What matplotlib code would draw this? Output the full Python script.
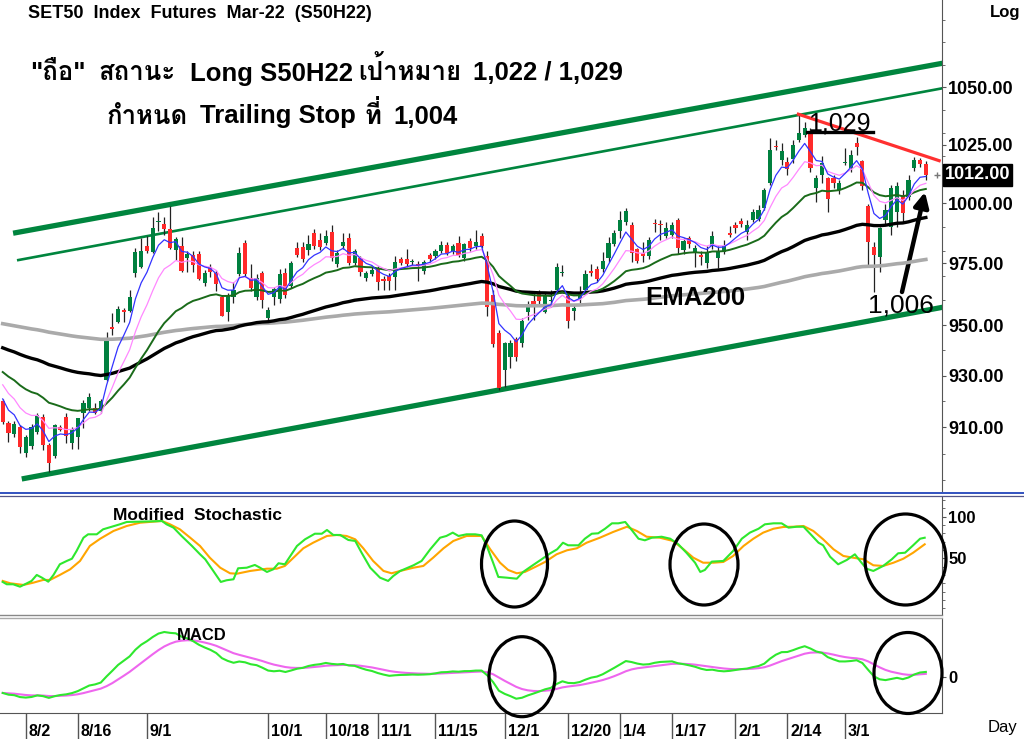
import numpy as np
import matplotlib
matplotlib.use("Agg")
import matplotlib.pyplot as plt
import matplotlib.transforms as mtransforms
from matplotlib import font_manager
from matplotlib.ft2font import FT2Font
from matplotlib.patches import Ellipse
from matplotlib.lines import Line2D
from matplotlib.ticker import NullFormatter

# daily OHLC of S50H22, one entry per trading day (end Jul 2021 .. mid Mar 2022)
opens = [920.3, 911.9, 907.5, 910.1, 900.3, 902.8, 908.2, 913.9, 903.3, 899.2,
         910.1, 914.2, 904.0, 906.3, 915.6, 917.3, 917.3, 916.4, 928.3, 949.0,
         951.2, 956.0, 955.8, 971.1, 973.5, 982.4, 979.8, 992.0, 991.5, 989.3,
         980.5, 982.4, 977.1, 978.4, 979.0, 967.2, 973.4, 971.2, 961.5, 955.5,
         961.5, 970.9, 983.5, 968.9, 961.5, 971.2, 952.8, 961.2, 960.4, 971.2,
         966.0, 981.2, 981.8, 980.5, 987.7, 984.7, 983.5, 988.1, 974.9, 982.1,
         985.4, 975.4, 977.1, 969.2, 970.9, 973.2, 968.2, 970.0, 969.5, 976.7,
         976.7, 975.6, 974.9, 971.9, 978.5, 978.1, 980.3, 982.6, 980.3, 983.5,
         977.2, 984.4, 982.1, 986.3, 978.0, 962.1, 946.9, 932.3, 937.5, 944.4,
         943.0, 955.1, 959.7, 962.6, 955.5, 959.6, 964.2, 971.0, 961.9, 955.9,
         960.4, 964.2, 972.0, 972.7, 972.7, 977.1, 983.0, 988.3, 992.3, 991.0,
         980.8, 979.5, 978.1, 991.8, 991.3, 986.4, 986.8, 993.0, 980.4, 985.4,
         979.4, 978.5, 975.2, 982.0, 977.1, 979.9, 987.4, 991.0, 992.7, 988.1,
         993.0, 993.3, 997.9, 1008.5, 1024.3, 1018.4, 1017.7, 1018.7, 1027.0, 1029.2,
         1030.0, 1006.3, 1012.0, 1010.6, 1010.6, 1005.6, 1017.0, 1014.8, 1025.8, 1017.9,
         998.9, 981.9, 977.8, 993.0, 990.2, 996.5, 1003.5, 1002.8, 1014.8, 1018.4,
         1016.7]
highs = [921.0, 912.5, 912.5, 911.0, 907.0, 911.3, 915.5, 915.3, 904.0, 911.5,
         911.0, 915.5, 910.3, 913.7, 920.6, 923.4, 919.4, 921.0, 947.1, 954.8,
         957.8, 957.0, 964.0, 981.4, 985.6, 986.4, 994.4, 996.3, 994.4, 998.8,
         986.0, 986.0, 980.0, 980.0, 980.2, 972.3, 974.7, 972.3, 962.0, 963.0,
         967.3, 981.8, 984.7, 974.7, 970.6, 972.0, 957.5, 965.5, 972.9, 973.0,
         976.1, 984.0, 984.0, 986.6, 989.1, 987.4, 988.8, 991.0, 980.5, 987.4,
         987.7, 981.0, 978.0, 972.0, 973.5, 974.0, 970.0, 971.0, 978.2, 977.5,
         981.0, 976.8, 976.0, 976.5, 979.5, 981.0, 984.4, 984.0, 983.0, 986.3,
         983.5, 985.5, 988.8, 987.5, 980.0, 964.2, 948.0, 943.5, 944.1, 945.5,
         953.0, 959.7, 963.5, 964.0, 963.2, 964.2, 975.0, 974.5, 963.2, 958.5,
         966.0, 972.3, 974.6, 974.0, 979.8, 986.1, 988.8, 996.8, 997.9, 992.3,
         981.5, 984.0, 986.1, 993.3, 993.0, 992.3, 992.0, 993.7, 985.5, 986.5,
         982.5, 980.0, 982.1, 988.3, 982.1, 984.7, 990.3, 992.3, 993.7, 993.0,
         997.5, 999.3, 1006.5, 1027.7, 1027.0, 1025.5, 1019.8, 1027.0, 1037.9, 1034.9,
         1032.1, 1012.0, 1020.1, 1011.3, 1012.0, 1009.9, 1023.4, 1022.7, 1028.4, 1018.4,
         999.5, 984.0, 990.2, 999.5, 1007.7, 1008.8, 1005.6, 1012.0, 1019.8, 1019.1,
         1017.8]
lows = [911.5, 904.6, 906.3, 900.3, 898.8, 901.9, 907.5, 901.5, 893.1, 898.5,
        908.5, 904.2, 901.7, 901.8, 909.8, 916.5, 915.0, 915.5, 928.0, 946.0,
        950.9, 951.2, 955.4, 969.5, 973.0, 979.3, 979.3, 988.5, 986.8, 980.8,
        976.4, 971.5, 971.6, 971.6, 968.3, 965.8, 969.5, 963.8, 953.5, 951.8,
        959.0, 970.0, 969.8, 963.6, 960.2, 956.8, 950.5, 958.0, 959.0, 961.0,
        965.0, 977.5, 975.5, 978.4, 981.0, 980.5, 982.5, 976.0, 973.5, 981.0,
        974.5, 974.5, 970.0, 968.0, 970.0, 964.2, 964.2, 964.2, 964.2, 974.5,
        973.5, 974.5, 968.0, 970.5, 975.5, 977.0, 979.5, 978.5, 979.0, 977.5,
        976.0, 980.0, 981.0, 981.5, 953.7, 941.5, 924.4, 925.8, 933.0, 936.0,
        941.5, 952.1, 952.1, 958.5, 954.7, 957.5, 963.5, 970.0, 948.9, 952.1,
        959.0, 963.0, 970.0, 967.5, 971.5, 975.5, 982.0, 985.6, 991.0, 975.7,
        975.3, 975.7, 977.0, 988.2, 984.7, 985.5, 985.5, 979.0, 979.0, 981.5,
        973.6, 974.4, 973.0, 981.0, 973.0, 979.0, 986.0, 987.5, 990.0, 984.7,
        992.0, 992.5, 997.0, 1007.8, 1022.7, 1016.3, 1012.0, 1017.3, 1026.3, 1028.5,
        1013.4, 1000.7, 1008.5, 996.5, 1006.5, 1004.0, 1016.3, 1013.4, 1020.5, 1005.6,
        974.4, 963.5, 971.6, 991.5, 986.7, 990.0, 991.6, 1001.5, 1013.5, 1015.5,
        1009.9]
closes = [912.0, 908.0, 911.2, 902.6, 906.3, 910.3, 914.9, 903.3, 896.5, 910.9,
          909.1, 906.7, 909.4, 913.5, 919.6, 921.6, 915.6, 920.3, 944.3, 948.6,
          956.5, 955.5, 961.2, 979.6, 980.1, 980.0, 989.5, 992.7, 989.3, 981.2,
          984.9, 971.9, 978.9, 974.4, 968.6, 971.2, 971.6, 966.5, 953.8, 962.1,
          964.2, 979.2, 970.9, 964.9, 968.9, 960.1, 956.1, 964.4, 970.5, 962.1,
          975.4, 978.5, 976.7, 983.2, 982.1, 981.8, 986.3, 977.1, 979.2, 984.0,
          975.4, 980.2, 971.6, 971.2, 972.5, 967.4, 967.9, 967.9, 975.8, 975.4,
          974.9, 975.8, 974.1, 975.8, 976.8, 980.1, 982.6, 979.4, 982.3, 978.5,
          982.9, 981.2, 984.0, 982.4, 957.5, 942.5, 925.1, 942.8, 942.8, 937.5,
          951.7, 958.5, 957.9, 959.7, 962.0, 959.8, 973.4, 971.3, 951.6, 956.8,
          962.9, 970.6, 971.2, 968.6, 976.1, 983.6, 987.5, 992.8, 996.9, 979.2,
          976.1, 978.1, 984.7, 991.2, 990.8, 989.6, 991.0, 981.2, 984.4, 983.0,
          981.2, 977.5, 979.2, 986.2, 979.8, 982.0, 986.8, 989.6, 991.3, 991.0,
          996.5, 997.2, 1005.6, 1022.7, 1023.9, 1022.4, 1014.4, 1024.9, 1030.0, 1032.1,
          1014.8, 1010.6, 1017.0, 1001.7, 1008.5, 1008.5, 1017.3, 1020.6, 1023.8, 1007.3,
          984.0, 978.5, 989.5, 997.2, 1006.3, 1007.3, 995.9, 1009.9, 1018.4, 1016.7,
          1012.0]

# modified stochastic as (bar, value) samples
stoch_k_bar = [0.0, 0.7, 1.8, 3.0, 4.2, 5.0, 5.9, 6.8, 7.9, 8.8, 9.9, 11.1, 12.0,
               12.8, 14.0, 14.8, 16.3, 17.4, 18.9, 20.3, 21.5, 23.8, 26.1, 27.6,
               28.4, 29.6, 31.0, 32.8, 34.2, 35.1, 36.5, 37.8, 38.8, 40.0, 40.8,
               42.3, 43.7, 44.6, 45.8, 46.9, 47.8, 48.9, 51.0, 52.4, 54.1, 55.3,
               56.2, 57.3, 58.5, 59.9, 61.1, 62.2, 63.7, 65.4, 66.8, 67.7, 68.9,
               71.2, 72.6, 74.1, 75.8, 76.9, 78.0, 79.0, 80.4, 81.9, 83.0, 83.9,
               85.0, 85.9, 87.4, 89.1, 90.2, 91.7, 93.4, 94.9, 96.1, 97.1, 98.0,
               99.8, 100.9, 102.1, 103.2, 104.4, 105.6, 106.7, 107.9, 108.7, 110.2,
               111.3, 112.5, 114.2, 115.7, 117.1, 118.5, 120.0, 120.9, 121.7, 122.9,
               124.9, 126.6, 128.1, 129.5, 131.0, 132.1, 133.6, 135.0, 136.2, 137.6,
               138.8, 140.2, 141.4, 142.2, 143.4, 144.8, 146.3, 147.7, 148.6, 149.7,
               150.9, 152.6, 154.1, 155.2, 156.4, 157.8, 159.0, 159.8]
stoch_k_val = [21.6, 18.8, 18.8, 15.9, 20.0, 22.8, 30.0, 26.7, 21.9, 30.0, 42.8,
               46.8, 49.5, 58.8, 74.7, 78.8, 78.8, 84.8, 87.9, 90.8, 93.6, 94.0,
               94.4, 94.8, 90.8, 86.8, 76.8, 64.8, 54.8, 48.8, 34.8, 21.6, 23.6,
               24.8, 38.0, 38.7, 42.0, 38.7, 33.6, 36.8, 44.0, 42.8, 64.8, 72.8,
               79.5, 79.5, 84.0, 78.0, 78.0, 72.0, 70.8, 56.7, 38.7, 26.7, 22.8,
               28.8, 34.8, 41.6, 46.8, 60.8, 74.7, 76.8, 80.8, 76.8, 78.8, 78.8,
               77.6, 64.8, 44.7, 27.6, 26.7, 25.5, 33.6, 40.8, 48.8, 56.0, 60.8,
               68.7, 65.6, 65.6, 73.5, 79.5, 80.0, 85.5, 92.0, 92.0, 93.6, 86.8,
               73.5, 71.6, 74.7, 75.9, 73.5, 66.8, 56.7, 44.7, 33.6, 36.0, 46.0,
               46.8, 58.8, 73.5, 80.8, 85.5, 90.8, 92.0, 92.0, 86.8, 87.9, 87.9,
               77.6, 68.7, 65.6, 51.9, 42.8, 48.0, 54.8, 46.8, 37.5, 34.8, 40.8,
               48.8, 56.0, 56.7, 65.6, 73.5, 74.7]
stoch_d_bar = [0.0, 1.3, 3.6, 5.3, 7.0, 8.2, 9.9, 11.7, 13.4, 15.1, 16.9, 19.2,
               21.5, 23.8, 26.1, 27.6, 29.0, 30.7, 32.5, 34.2, 35.9, 37.7, 39.4,
               40.6, 42.9, 45.8, 47.5, 48.9, 50.4, 52.1, 53.8, 56.2, 57.9, 59.6,
               61.1, 62.5, 64.2, 66.0, 67.4, 68.9, 71.2, 72.9, 74.6, 76.4, 78.1,
               80.4, 83.0, 84.5, 86.2, 87.6, 89.1, 90.5, 92.3, 94.0, 96.0, 97.8,
               99.5, 101.2, 103.5, 105.8, 108.2, 109.9, 111.6, 113.9, 116.2, 118.0,
               119.7, 121.4, 123.2, 124.9, 126.6, 128.4, 130.1, 131.8, 133.6, 135.3,
               137.0, 138.8, 140.5, 142.2, 144.0, 145.7, 147.4, 149.2, 150.9, 152.6,
               154.4, 156.1, 157.8, 159.8]
stoch_d_val = [22.8, 20.0, 18.0, 20.7, 24.0, 24.0, 30.0, 36.8, 46.8, 64.8, 73.5,
               82.8, 88.8, 92.7, 94.0, 94.8, 90.8, 84.8, 74.7, 64.8, 50.7, 38.7,
               32.0, 31.5, 34.8, 37.5, 37.5, 40.8, 50.7, 62.0, 68.7, 76.8, 78.0,
               76.8, 72.8, 62.0, 46.8, 34.8, 32.0, 34.8, 38.7, 40.8, 50.7, 62.0,
               70.8, 76.8, 76.8, 60.8, 44.7, 36.0, 32.0, 33.6, 39.6, 45.6, 54.8,
               59.6, 62.0, 68.7, 74.7, 81.6, 87.9, 82.8, 75.9, 74.7, 70.8, 60.8,
               50.7, 44.7, 44.7, 45.6, 52.8, 64.8, 73.5, 80.8, 85.5, 87.6, 87.9,
               88.8, 82.8, 72.8, 60.8, 52.8, 50.7, 48.8, 41.6, 40.8, 44.7, 49.5,
               56.7, 66.8]

date_labels = ['8/2', '8/16', '9/1', '10/1', '10/18', '11/1', '11/15', '12/1',
               '12/20', '1/4', '1/17', '2/1', '2/14', '3/1']
date_index = [4, 13, 25, 46, 56, 65, 75, 87, 98, 107, 116, 127, 136, 146]
price_ticks = [910, 930, 950, 975, 1000, 1025, 1050]

# EMA periods and the level each line had just before the first bar
ema_periods = [5, 10, 25, 75, 200]
ema_seeds = [925.5, 929.7, 933.1, 941.8, 951.0]

# analyst trend lines: (bar, price) end points
channel_top_x, channel_top_y = [1.8, 162.9], [987.5, 1060.7]
channel_mid_x, channel_mid_y = [2.7, 162.9], [976.4, 1049.6]
channel_low_x, channel_low_y = [3.3, 162.9], [890.5, 957.2]
resist_x, resist_y = [137.9, 162.3], [1038.2, 1018.1]

# headline pieces and the pixel x where each starts
headline_1 = [('"ถือ"', 30), ('สถานะ', 98), ('Long S50H22', 190),
              ('เป้าหมาย', 358), ('1,022 / 1,029', 473)]
headline_2 = [('กำหนด', 106), ('Trailing Stop', 200), ('ที่', 365),
              ('1,004', 393)]

W, H = 1024, 739
LATIN = 'Liberation Sans'


def fx(px):
    return px / W


def fy(py):
    return 1 - py / H


def find_thai_font():
    """ look for any installed font that has Thai glyphs """
    for f in font_manager.fontManager.ttflist:
        try:
            if 0x0E16 in FT2Font(f.fname).get_charmap():
                return f.name
        except Exception:
            continue
    return None


def ema(values, span, seed):
    a = 2.0 / (span + 1)
    out = np.empty(len(values))
    prev = seed
    for i, v in enumerate(values):
        prev = prev + a * (v - prev)
        out[i] = prev
    return out


plt.rcParams['font.family'] = [LATIN, 'DejaVu Sans']
thai = find_thai_font()
thai_family = [LATIN, thai] if thai else [LATIN, 'DejaVu Sans']

o = np.array(opens)
h = np.array(highs)
l = np.array(lows)
c = np.array(closes)
n = len(c)
idx = np.arange(n)

# indicators
emas = [ema(c, p, s) for p, s in zip(ema_periods, ema_seeds)]
macd = ema(c, 12, 925.0) - ema(c, 26, 931.0)
signal = ema(macd, 9, -6.6)

fig = plt.figure(figsize=(10.24, 7.39), dpi=100)
fig.patch.set_facecolor('white')
ax1 = fig.add_axes([0, fy(491), fx(942), 491 / H])
ax2 = fig.add_axes([0, fy(614), fx(942), (614 - 497) / H])
ax3 = fig.add_axes([0, fy(713), fx(942), (713 - 619) / H])

for ax in (ax1, ax2, ax3):
    ax.set_xlim(-0.47, 162.8)
    for side in ('left', 'top', 'bottom'):
        ax.spines[side].set_visible(False)
    ax.spines['right'].set_color('#555555')
    ax.yaxis.tick_right()
    ax.tick_params(axis='x', which='both', bottom=False, labelbottom=False)
    ax.tick_params(axis='y', which='both', direction='out', colors='#555555',
                   labelcolor='black')

# ---- price panel ----
ax1.set_yscale('log')
ax1.set_ylim(886.0, 1089.3)

green_c, red_c = '#00803F', '#FF2A2A'
up = c >= o
body_lo = np.minimum(o, c)
body_h = np.maximum(np.abs(c - o), 0.6)
ax1.vlines(idx, l, h, color='#222222', lw=0.9, zorder=3)
ax1.bar(idx, body_h, bottom=body_lo, width=0.72,
        color=np.where(up, green_c, red_c), linewidth=0, zorder=4)

chan_col = '#00853E'
ax1.plot(channel_top_x, channel_top_y, color=chan_col, lw=3.8, zorder=2,
         solid_capstyle='butt')
ax1.plot(channel_mid_x, channel_mid_y, color=chan_col, lw=1.9, zorder=2)
ax1.plot(channel_low_x, channel_low_y, color=chan_col, lw=3.8, zorder=2,
         solid_capstyle='butt')
ax1.plot(resist_x, resist_y, color='#FF3030', lw=2.3, zorder=6)

ema_styles = [('#3333FF', 0.9), ('#FF88FF', 0.9), ('#1A6B1A', 1.4),
              ('black', 2.4), ('#AAAAAA', 2.6)]
for line, (col, lw) in reversed(list(zip(emas, ema_styles))):
    ax1.plot(idx, line, color=col, lw=lw, zorder=5)

ax1.plot(n + 0.9, c[-1], marker='+', ms=5, color='#777777', zorder=6,
         clip_on=False)

ax1.set_yticks(price_ticks)
ax1.set_yticklabels(['%.2f' % t for t in price_ticks], fontsize=13,
                    fontweight='bold')
minor = [v for v in range(890, 1090, 10) if v not in price_ticks]
ax1.set_yticks(minor, minor=True)
ax1.yaxis.set_minor_formatter(NullFormatter())
ax1.tick_params(axis='y', which='major', length=3, pad=1.5)
ax1.tick_params(axis='y', which='minor', length=2.5)

# last price tag
ax1.text(1.003, c[-1], '%.2f' % c[-1], transform=ax1.get_yaxis_transform(),
         ha='left', va='center', fontsize=13, fontweight='bold', color='white',
         bbox=dict(boxstyle='square,pad=0.12', fc='black', ec='black'),
         clip_on=False, zorder=10)

# ---- stochastic panel ----
ax2.set_ylim(-16.9, 123.6)
ax2.plot(stoch_d_bar, stoch_d_val, color='#FFA500', lw=1.5, zorder=3)
ax2.plot(stoch_k_bar, stoch_k_val, color='#2EE82E', lw=1.5, zorder=4)
ax2.set_yticks([50, 100])
ax2.set_yticklabels(['50', '100'], fontsize=12, fontweight='bold')
ax2.set_yticks([v for v in range(-10, 121, 10) if v not in (50, 100)],
               minor=True)
ax2.tick_params(axis='y', which='major', length=3, pad=1.5)
ax2.tick_params(axis='y', which='minor', length=2.5)

# ---- MACD panel ----
peak = macd.max()
ax3.set_ylim(-36 * peak / 45, 58 * peak / 45)
ax3.plot(idx, signal, color='#EE66EE', lw=1.5, zorder=3)
ax3.plot(idx, macd, color='#2EE82E', lw=1.5, zorder=4)
ax3.set_yticks([0])
ax3.set_yticklabels(['0'], fontsize=12, fontweight='bold')
ax3.tick_params(axis='y', which='major', length=3, pad=1.5)
ax3.spines['bottom'].set_visible(True)
ax3.spines['bottom'].set_color('#555555')
ax3.set_xticks(date_index)
ax3.set_xticklabels(date_labels, fontsize=11.5, fontweight='bold')
ax3.tick_params(axis='x', which='major', bottom=True, labelbottom=True,
                length=19, width=1, color='#555555', direction='out', pad=-11)
shift = mtransforms.ScaledTranslation(3 / 100, 0, fig.dpi_scale_trans)
for lab in ax3.get_xticklabels():
    lab.set_horizontalalignment('left')
    lab.set_transform(lab.get_transform() + shift)

# ---- panel separators ----
fig.add_artist(Line2D([0, 1], [fy(492.5)] * 2, color='#2244BB', lw=1.3))
fig.add_artist(Line2D([0, 1], [fy(495.5)] * 2, color='#555588', lw=0.9))
fig.add_artist(Line2D([0, fx(942)], [fy(615)] * 2, color='#888888', lw=1))
fig.add_artist(Line2D([0, fx(942)], [fy(617.5)] * 2, color='#AAAAAA', lw=1))

# ---- texts ----
fig.text(fx(28), fy(17.5), 'SET50  Index  Futures  Mar-22  (S50H22)',
         fontsize=13, fontweight='bold', va='baseline')
for piece, x0 in headline_1:
    fig.text(fx(x0), fy(80.5), piece, fontsize=18.5, fontweight='bold',
             va='baseline', family=thai_family)
for piece, x0 in headline_2:
    fig.text(fx(x0), fy(123.5), piece, fontsize=18.5, fontweight='bold',
             va='baseline', family=thai_family)
fig.text(fx(990), fy(17), 'Log', fontsize=12, fontweight='bold', va='baseline')
fig.text(fx(988), fy(732), 'Day', fontsize=12, va='baseline')
fig.text(fx(808), fy(130), '1,029', fontsize=18, va='baseline')
fig.add_artist(Line2D([fx(806.5), fx(872.5)], [fy(131.7)] * 2,
                      color='black', lw=2.4))
fig.text(fx(868), fy(313), '1,006', fontsize=19, va='baseline')
fig.text(fx(645), fy(305), 'EMA200', fontsize=18.5, fontweight='bold',
         va='baseline')
fig.text(fx(113), fy(520), 'Modified  Stochastic', fontsize=12.5,
         fontweight='bold', va='baseline')
fig.text(fx(177), fy(640), 'MACD', fontsize=12, fontweight='bold',
         va='baseline')

ax1.annotate('', xy=(fx(925), fy(192)), xycoords='figure fraction',
             xytext=(fx(902), fy(292)), textcoords='figure fraction',
             arrowprops=dict(arrowstyle='-|>', lw=3.2, color='black',
                             mutation_scale=22, shrinkA=0, shrinkB=0))

# ---- circled crossovers ----
rings = [(514.5, 564, 66, 86), (704, 564.5, 68, 81), (905.5, 559.5, 81, 91),
         (522, 676.7, 66, 80), (908, 673, 68, 81)]
for cx, cy, w, hgt in rings:
    fig.add_artist(Ellipse((fx(cx), fy(cy)), w / W, hgt / H,
                           transform=fig.transFigure, fill=False,
                           ec='black', lw=2.3))

fig.savefig('out.png', dpi=100)
